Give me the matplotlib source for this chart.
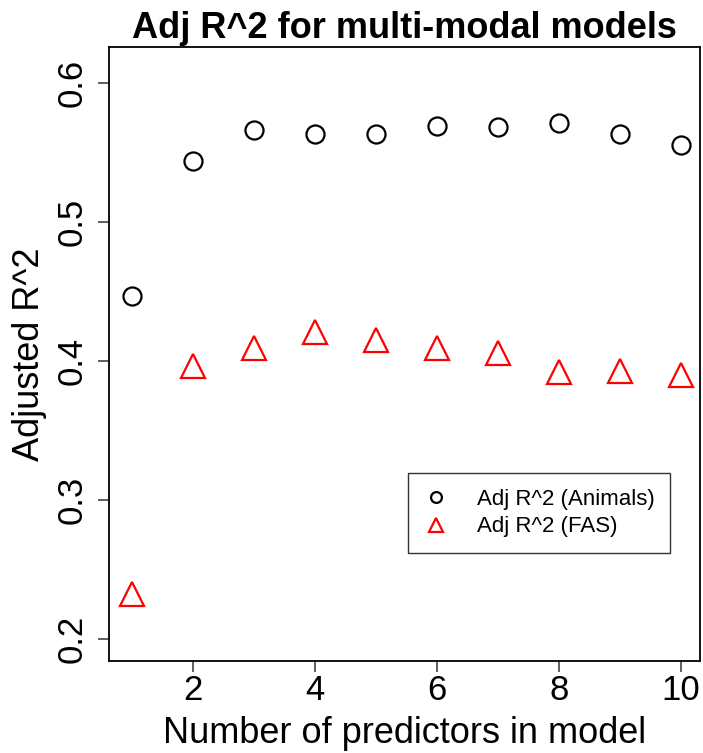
import matplotlib
matplotlib.use("Agg")
import matplotlib.pyplot as plt

n_pred = [1, 2, 3, 4, 5, 6, 7, 8, 9, 10]
adj_animals = [0.447, 0.544, 0.566, 0.563, 0.563, 0.569, 0.568, 0.571, 0.563, 0.555]
adj_fas = [0.232, 0.396, 0.409, 0.421, 0.415, 0.409, 0.406, 0.392, 0.393, 0.390]

x_ticks = [2, 4, 6, 8, 10]
y_ticks = [0.2, 0.3, 0.4, 0.5, 0.6]

plt.rcParams['font.family'] = ['Liberation Sans', 'DejaVu Sans']

fig = plt.figure(figsize=(7.03, 7.53), dpi=100)
ax = fig.add_axes([0.155, 0.122, 0.841, 0.816])

ax.plot(n_pred, adj_animals, linestyle='none', marker='o', markersize=13,
        markerfacecolor='none', markeredgecolor='black', markeredgewidth=1.6,
        label='Adj R^2 (Animals)')
ax.plot(n_pred, adj_fas, linestyle='none', marker='^', markersize=17,
        markerfacecolor='none', markeredgecolor='red', markeredgewidth=1.6,
        label='Adj R^2 (FAS)')

ax.set_xlim(0.62, 10.32)
ax.set_ylim(0.184, 0.626)
ax.set_xticks(x_ticks)
ax.set_yticks(y_ticks)
ax.set_yticklabels([f"{v:.1f}" for v in y_ticks], rotation=90, va='center')
ax.tick_params(axis='both', direction='out', length=8, width=1.2,
               labelsize=25, color='#444444')
ax.tick_params(axis='x', pad=1)
ax.tick_params(axis='y', pad=7)
for sp in ax.spines.values():
    sp.set_linewidth(1.3)

ax.set_xlabel('Number of predictors in model', fontsize=26, labelpad=7)
ax.set_ylabel('Adjusted R^2', fontsize=26, labelpad=6)
ax.set_title('Adj R^2 for multi-modal models', fontsize=26, fontweight='bold', pad=6)

leg = ax.legend(loc='upper left', bbox_to_anchor=(0.506, 0.306), fontsize=16,
                frameon=True, fancybox=False, edgecolor='black',
                borderpad=0.7, handlelength=1.1, handletextpad=1.3,
                labelspacing=0.3, markerscale=0.6, borderaxespad=0)
leg.get_frame().set_linewidth(1.0)

fig.savefig('out.png', dpi=100)
